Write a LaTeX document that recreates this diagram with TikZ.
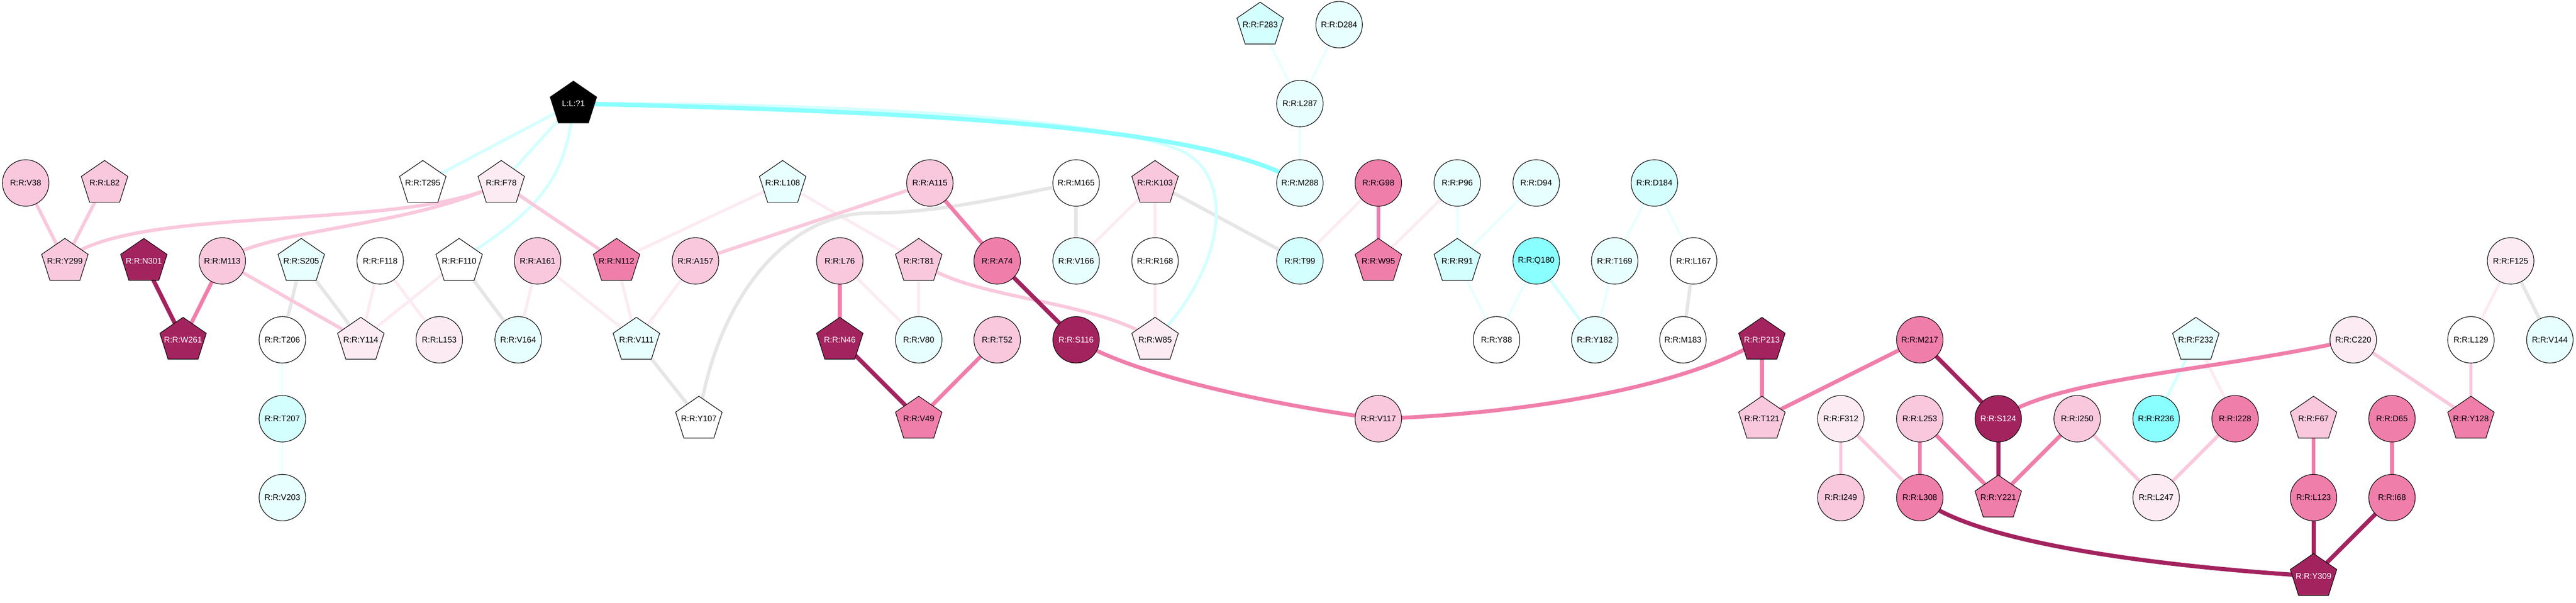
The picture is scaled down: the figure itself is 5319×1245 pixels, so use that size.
\documentclass[tikz,border=0pt]{standalone}
\usepackage{fontspec}
\setmainfont{Liberation Sans}
\usetikzlibrary{shapes.geometric}
\pgfdeclarelayer{bgl}
\pgfdeclarelayer{edges}
\pgfsetlayers{bgl,edges,main}
\definecolor{cP1}{HTML}{FCEBF3}
\definecolor{cP2}{HTML}{F9C8DD}
\definecolor{cP3}{HTML}{F07EAB}
\definecolor{cP4}{HTML}{A3235F}
\definecolor{cC1}{HTML}{E8FFFF}
\definecolor{cC2}{HTML}{D4FFFF}
\definecolor{cC3}{HTML}{8AFFFF}
\definecolor{cG}{HTML}{E6E6E6}
\tikzset{
 nd/.style={draw=black, line width=0.6pt, inner sep=0pt, font=\fontsize{8.5}{10}\selectfont, text=black},
 circ/.style={nd, circle, minimum size=48pt, fill=#1},
 pentbody/.style={draw=black, line width=0.6pt, fill=#1},
 wt/.style={text=white},
 lp1/.style={draw=cP1, line width=3pt},
 lp2/.style={draw=cP2, line width=3.5pt},
 lp3/.style={draw=cP3, line width=4pt},
 lp4/.style={draw=cP4, line width=4.3pt},
 lg/.style={draw=cG, line width=3.5pt},
 lc1/.style={draw=cC1, line width=2.5pt},
 lc2/.style={draw=cC2, line width=3pt},
 lc3/.style={draw=cC3, line width=4.5pt},
}
% #1 name, #2 x, #3 y, #4 fill, #5 text colour, #6 label
\newcommand\pentnode[6]{%
  \path[pentbody=#4, shift={(#2,#3)}] (0,-46.5) -- (48,-13.5) -- (31,40) -- (-31,40) -- (-48,-13.5) -- cycle;
  \node[nd, draw=none, circle, minimum size=48pt, text=#5] (#1) at (#2,#3) {#6};}
\begin{document}
\begin{tikzpicture}[x=0.5pt,y=-0.5pt]
\begin{pgfonlayer}{bgl}
\fill[white] (0,0) rectangle (5319,1245);
\end{pgfonlayer}
\useasboundingbox (0,0) rectangle (5319,1245);
% row 51 / 214
\pentnode{F283}{2602}{51}{cC2}{black}{R:R:F283}
\node[circ=cC1] (D284) at (2765,51) {R:R:D284};
\node[circ=cC1] (L287) at (2684,214) {R:R:L287};
\pentnode{L1}{1184}{214}{black}{white}{L:L:?1}
% row 378
\node[circ=cP2] (V38) at (53,378) {R:R:V38};
\pentnode{L82}{216}{378}{cP2}{black}{R:R:L82}
\pentnode{T295}{873}{378}{white}{black}{R:R:T295}
\pentnode{F78}{1035}{378}{cP1}{black}{R:R:F78}
\pentnode{L108}{1616}{378}{cC1}{black}{R:R:L108}
\node[circ=cP2] (A115) at (1920,378) {R:R:A115};
\node[circ=white] (M165) at (2222,378) {R:R:M165};
\pentnode{K103}{2385}{378}{cP2}{black}{R:R:K103}
\node[circ=cC1] (M288) at (2684,378) {R:R:M288};
\node[circ=cP3] (G98) at (2846,378) {R:R:G98};
\node[circ=cC1] (P96) at (3009,378) {R:R:P96};
\node[circ=cC1] (D94) at (3172,378) {R:R:D94};
\node[circ=cC2] (D184) at (3416,378) {R:R:D184};
% row 539
\pentnode{Y299}{134}{539}{cP2}{black}{R:R:Y299}
\pentnode{N301}{297}{539}{cP4}{white}{R:R:N301}
\node[circ=cP2] (M113) at (459,539) {R:R:M113};
\pentnode{S205}{622}{539}{cC1}{black}{R:R:S205}
\node[circ=white] (F118) at (785,539) {R:R:F118};
\pentnode{F110}{948}{539}{white}{black}{R:R:F110}
\node[circ=cP2] (A161) at (1110,539) {R:R:A161};
\pentnode{N112}{1273}{539}{cP3}{black}{R:R:N112}
\node[circ=cP2] (A157) at (1436,539) {R:R:A157};
\node[circ=cP2] (L76) at (1734,539) {R:R:L76};
\pentnode{T81}{1897}{539}{cP2}{black}{R:R:T81}
\node[circ=cP3] (A74) at (2059,539) {R:R:A74};
\node[circ=cC1] (V166) at (2222,539) {R:R:V166};
\node[circ=white] (R168) at (2385,539) {R:R:R168};
\node[circ=cC2] (T99) at (2684,539) {R:R:T99};
\pentnode{W95}{2846}{539}{cP3}{black}{R:R:W95}
\pentnode{R91}{3009}{539}{cC2}{black}{R:R:R91}
\node[circ=cC3] (Q180) at (3172,539) {R:R:Q180};
\node[circ=cC1] (T169) at (3334,539) {R:R:T169};
\node[circ=white] (L167) at (3497,539) {R:R:L167};
\node[circ=cP1] (F125) at (5184,539) {R:R:F125};
% row 702
\pentnode{W261}{378}{702}{cP4}{white}{R:R:W261}
\node[circ=white] (T206) at (583,702) {R:R:T206};
\pentnode{Y114}{745}{702}{cP1}{black}{R:R:Y114}
\node[circ=cP1] (L153) at (907,702) {R:R:L153};
\node[circ=cC1] (V164) at (1070,702) {R:R:V164};
\pentnode{V111}{1314}{702}{cC1}{black}{R:R:V111}
\pentnode{N46}{1734}{702}{cP4}{white}{R:R:N46}
\node[circ=cC1] (V80) at (1897,702) {R:R:V80};
\node[circ=cP2] (T52) at (2059,702) {R:R:T52};
\node[circ=cP4,wt] (S116) at (2222,702) {R:R:S116};
\pentnode{W85}{2385}{702}{cP1}{black}{R:R:W85}
\node[circ=white] (Y88) at (3090,702) {R:R:Y88};
\node[circ=cC1] (Y182) at (3293,702) {R:R:Y182};
\node[circ=white] (M183) at (3475,702) {R:R:M183};
\pentnode{P213}{3638}{702}{cP4}{white}{R:R:P213}
\node[circ=cP3] (M217) at (3964,702) {R:R:M217};
\pentnode{F232}{4534}{702}{cC1}{black}{R:R:F232}
\node[circ=cP1] (C220) at (4859,702) {R:R:C220};
\node[circ=white] (L129) at (5102,702) {R:R:L129};
\node[circ=cC1] (V144) at (5265,702) {R:R:V144};
% row 865
\node[circ=cC2] (T207) at (583,865) {R:R:T207};
\pentnode{Y107}{1443}{865}{white}{black}{R:R:Y107}
\pentnode{V49}{1897}{865}{cP3}{black}{R:R:V49}
\node[circ=cP2] (V117) at (2846,865) {R:R:V117};
\pentnode{T121}{3638}{865}{cP2}{black}{R:R:T121}
\node[circ=cP1] (F312) at (3801,865) {R:R:F312};
\node[circ=cP2] (L253) at (3964,865) {R:R:L253};
\node[circ=cP4,wt] (S124) at (4126,865) {R:R:S124};
\node[circ=cP2] (I250) at (4289,865) {R:R:I250};
\node[circ=cC3] (R236) at (4452,865) {R:R:R236};
\node[circ=cP3] (I228) at (4615,865) {R:R:I228};
\pentnode{F67}{4777}{865}{cP2}{black}{R:R:F67}
\node[circ=cP3] (D65) at (4939,865) {R:R:D65};
\pentnode{Y128}{5102}{865}{cP3}{black}{R:R:Y128}
% row 1028
\node[circ=cC1] (V203) at (583,1028) {R:R:V203};
\node[circ=cP2] (I249) at (3801,1028) {R:R:I249};
\node[circ=cP3] (L308) at (3964,1028) {R:R:L308};
\pentnode{Y221}{4126}{1028}{cP3}{black}{R:R:Y221}
\node[circ=cP1] (L247) at (4452,1028) {R:R:L247};
\node[circ=cP3] (L123) at (4777,1028) {R:R:L123};
\node[circ=cP3] (I68) at (4939,1028) {R:R:I68};
% row 1190
\pentnode{Y309}{4777}{1190}{cP4}{white}{R:R:Y309}

\begin{pgfonlayer}{edges}
% very light pink
\draw[lp1] (F118.center) -- (Y114.center);
\draw[lp1] (F118.center) -- (L153.center);
\draw[lp1] (F110.center) -- (Y114.center);
\draw[lp1] (L108.center) -- (N112.center);
\draw[lp1] (L108.center) -- (T81.center);
\draw[lp1] (A161.center) -- (V164.center);
\draw[lp1] (A161.center) -- (V111.center);
\draw[lp1] (N112.center) -- (V111.center);
\draw[lp1] (A157.center) -- (V111.center);
\draw[lp1] (L76.center) -- (V80.center);
\draw[lp1] (T81.center) -- (V80.center);
\draw[lp1] (K103.center) -- (V166.center);
\draw[lp1] (K103.center) -- (R168.center);
\draw[lp1] (R168.center) -- (W85.center);
\draw[lp1] (G98.center) -- (T99.center);
\draw[lp1] (P96.center) -- (W95.center);
\draw[lp1] (F232.center) -- (I228.center);
\draw[lp1] (F125.center) -- (L129.center);
% gray
\draw[lg] (S205.center) -- (T206.center);
\draw[lg] (S205.center) -- (Y114.center);
\draw[lg] (F110.center) -- (V164.center);
\draw[lg] (V111.center) -- (Y107.center);
\draw[lg] (Y107.center) .. controls (1480,620) and (1620,440) .. (1800,440)
  .. controls (1950,440) and (2100,400) .. (M165.center);
\draw[lg] (M165.center) -- (V166.center);
\draw[lg] (K103.center) -- (T99.center);
\draw[lg] (L167.center) -- (M183.center);
\draw[lg] (F125.center) -- (V144.center);
% cyan
\draw[lc1] (T206.center) -- (T207.center);
\draw[lc1] (T207.center) -- (V203.center);
\draw[lc1] (F283.center) -- (L287.center);
\draw[lc1] (D284.center) -- (L287.center);
\draw[lc1] (L287.center) -- (M288.center);
\draw[lc1] (P96.center) -- (R91.center);
\draw[lc1] (D94.center) -- (R91.center);
\draw[lc1] (R91.center) -- (Y88.center);
\draw[lc1] (Q180.center) -- (Y88.center);
\draw[lc1] (T169.center) -- (Y182.center);
\draw[lc1] (D184.center) -- (T169.center);
\draw[lc1] (D184.center) -- (L167.center);
\draw[lc2] (Q180.center) -- (Y182.center);
\draw[lc2] (F232.center) -- (R236.center);
\draw[lc2] (L1.center) -- (T295.center);
\draw[lc2] (L1.center) -- (F78.center);
\draw[lc2] (L1.center) .. controls (1170,380) and (1100,440) .. (F110.center);
\draw[lc2] (L1.center) .. controls (1800,212) and (2300,250) .. (2440,312)
  .. controls (2545,360) and (2540,540) .. (W85.center);
\draw[lc3] (L1.center) .. controls (1900,230) and (2500,260) .. (M288.center);
% pale pink
\draw[lp2] (V38.center) -- (Y299.center);
\draw[lp2] (L82.center) -- (Y299.center);
\draw[lp2] (Y299.center) .. controls (260,420) and (850,480) .. (F78.center);
\draw[lp2] (M113.center) .. controls (560,470) and (850,470) .. (F78.center);
\draw[lp2] (M113.center) -- (Y114.center);
\draw[lp2] (F78.center) -- (N112.center);
\draw[lp2] (A157.center) -- (A115.center);
\draw[lp2] (T81.center) .. controls (2000,620) and (2250,615) .. (W85.center);
\draw[lp2] (F312.center) -- (I249.center);
\draw[lp2] (F312.center) -- (L308.center);
\draw[lp2] (I250.center) -- (L247.center);
\draw[lp2] (I228.center) -- (L247.center);
\draw[lp2] (C220.center) -- (Y128.center);
\draw[lp2] (L129.center) -- (Y128.center);
% medium pink
\draw[lp3] (M113.center) -- (W261.center);
\draw[lp3] (L76.center) -- (N46.center);
\draw[lp3] (A115.center) -- (A74.center);
\draw[lp3] (T52.center) -- (V49.center);
\draw[lp3] (S116.center) .. controls (2350,780) and (2650,840) .. (V117.center);
\draw[lp3] (V117.center) .. controls (3150,855) and (3480,800) .. (P213.center);
\draw[lp3] (P213.center) -- (T121.center);
\draw[lp3] (M217.center) -- (T121.center);
\draw[lp3] (S124.center) .. controls (4250,780) and (4550,770) .. (C220.center);
\draw[lp3] (L253.center) -- (L308.center);
\draw[lp3] (L253.center) -- (Y221.center);
\draw[lp3] (I250.center) -- (Y221.center);
\draw[lp3] (G98.center) -- (W95.center);
\draw[lp3] (F67.center) -- (L123.center);
\draw[lp3] (D65.center) -- (I68.center);
% dark
\draw[lp4] (N301.center) -- (W261.center);
\draw[lp4] (A74.center) -- (S116.center);
\draw[lp4] (N46.center) -- (V49.center);
\draw[lp4] (M217.center) -- (S124.center);
\draw[lp4] (S124.center) -- (Y221.center);
\draw[lp4] (L123.center) -- (Y309.center);
\draw[lp4] (I68.center) -- (Y309.center);
\draw[lp4] (L308.center) .. controls (4070,1120) and (4450,1170) .. (Y309.center);
\end{pgfonlayer}
\end{tikzpicture}
\end{document}
